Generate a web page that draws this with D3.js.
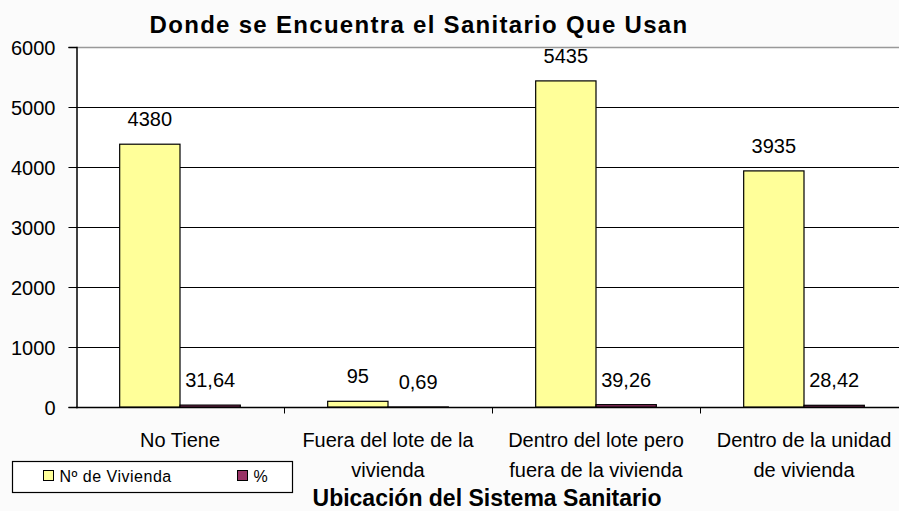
<!DOCTYPE html>
<html>
<head>
<meta charset="utf-8">
<script src="https://cdn.jsdelivr.net/npm/d3@7"></script>
<style>
  body { margin: 0; background: #fbfbfb; }
  .text { font-family: "Liberation Sans", Arial, sans-serif; fill: #000; }
</style>
</head>
<body>
<div id="chart"></div>
<script>
// Data
const categories = [
    ["No Tiene"],
    ["Fuera del lote de la", "vivienda"],
    ["Dentro del lote pero", "fuera de la vivienda"],
    ["Dentro de la unidad", "de vivienda"]
];
const seriesNames = ["Nº de Vivienda", "%"];
const viviendas = [4380, 95, 5435, 3935];
const percents = [31.64, 0.69, 39.26, 28.42];
const yTicks = [0, 1000, 2000, 3000, 4000, 5000, 6000];
const titleText = "Donde se Encuentra el Sanitario Que Usan";
const xTitle = "Ubicación del Sistema Sanitario";

const colors = { vivienda: "#ffff99", pct: "#993366", grid: "#000", top: "#999" };

const width = 899, height = 511;
const margins = { top: 47, right: -9, bottom: 104, left: 76 };

const svg = d3.select("#chart").append("svg")
    .attr("width", width)
    .attr("height", height);

// Plot area background
const plotW = width - margins.left - margins.right;
const plotH = height - margins.top - margins.bottom;

svg.append("rect")
    .attr("x", margins.left).attr("y", margins.top)
    .attr("width", plotW).attr("height", plotH)
    .attr("fill", "#fff");

// Scales
const xScale = d3.scaleBand()
    .domain(d3.range(categories.length))
    .range([margins.left, margins.left + plotW])
    .padding(0);

const inner = d3.scaleBand()
    .domain(seriesNames)
    .range([xScale.bandwidth() * 0.21, xScale.bandwidth() * 0.79])
    .padding(0);

const yScale = d3.scaleLinear()
    .domain([0, 6000])
    .range([margins.top + plotH, margins.top]);

// Gridlines
svg.append("g")
    .selectAll("line")
    .data(yTicks.filter(d => d > 0))
    .join("line")
    .attr("x1", margins.left).attr("x2", margins.left + plotW)
    .attr("y1", d => Math.round(yScale(d)) + 0.5)
    .attr("y2", d => Math.round(yScale(d)) + 0.5)
    .attr("stroke", d => d === 6000 ? colors.top : colors.grid)
    .attr("stroke-width", d => d === 6000 ? 1.5 : 1);

// Y axis
const yAxis = svg.append("g")
    .attr("transform", `translate(${margins.left + 0.5},0)`)
    .call(d3.axisLeft(yScale).tickValues(yTicks).tickSize(8).tickPadding(13).tickFormat(d3.format("d")));
yAxis.select(".domain").attr("stroke", "#000").attr("stroke-width", 1.5);
yAxis.selectAll(".tick line").attr("stroke", "#000");
yAxis.selectAll(".tick text")
    .attr("class", "text")
    .style("font-size", "20px")
    .attr("dy", "0.36em");

// X axis (line and ticks at band boundaries)
const baseY = Math.round(yScale(0)) + 0.5;
svg.append("line")
    .attr("x1", margins.left).attr("x2", margins.left + plotW)
    .attr("y1", baseY).attr("y2", baseY)
    .attr("stroke", "#000").attr("stroke-width", 1.5);

svg.append("g")
    .selectAll("line")
    .data(d3.range(1, categories.length))
    .join("line")
    .attr("x1", i => Math.round(xScale(i)) + 0.5)
    .attr("x2", i => Math.round(xScale(i)) + 0.5)
    .attr("y1", baseY).attr("y2", baseY + 6)
    .attr("stroke", "#000");

// Bars
const rows = categories.map((c, i) => [
    { key: seriesNames[0], i, value: viviendas[i], label: d3.format("d")(viviendas[i]), fill: colors.vivienda },
    { key: seriesNames[1], i, value: percents[i], label: percents[i].toFixed(2).replace(".", ","), fill: colors.pct }
]).flat();

svg.append("g")
    .selectAll("rect")
    .data(rows)
    .join("rect")
    .attr("x", d => xScale(d.i) + inner(d.key))
    .attr("y", d => yScale(d.value))
    .attr("width", inner.bandwidth())
    .attr("height", d => yScale(0) - yScale(d.value))
    .attr("fill", d => d.fill)
    .attr("stroke", "#000")
    .attr("stroke-width", 1.2);

// Value labels
svg.append("g")
    .selectAll("text")
    .data(rows)
    .join("text")
    .attr("class", "text")
    .attr("x", d => xScale(d.i) + inner(d.key) + inner.bandwidth() / 2)
    .attr("y", d => yScale(d.value) - 18)
    .attr("text-anchor", "middle")
    .style("font-size", "20px")
    .text(d => d.label);

// Category labels
const catLabels = svg.append("g")
    .selectAll("text")
    .data(categories)
    .join("text")
    .attr("class", "text")
    .attr("text-anchor", "middle")
    .style("font-size", "20px");
catLabels.selectAll("tspan")
    .data((d, i) => d.map(line => ({ line, i })))
    .join("tspan")
    .attr("x", d => xScale(d.i) + xScale.bandwidth() / 2)
    .attr("y", (d, j) => 447 + j * 30)
    .text(d => d.line);

// Title
svg.append("text")
    .attr("class", "text")
    .attr("x", 419)
    .attr("y", 33)
    .attr("text-anchor", "middle")
    .style("font-size", "24px")
    .style("font-weight", "bold")
    .style("letter-spacing", "1.3px")
    .text(titleText);

// X axis title
svg.append("text")
    .attr("class", "text")
    .attr("x", 487)
    .attr("y", 506)
    .attr("text-anchor", "middle")
    .style("font-size", "23px")
    .style("font-weight", "bold")
    .text(xTitle);

// Legend
const legend = svg.append("g").attr("transform", "translate(12.5,461.5)");
legend.append("rect")
    .attr("width", 280).attr("height", 31)
    .attr("fill", "#fff").attr("stroke", "#000").attr("stroke-width", 1.2);

const legendItems = [
    { name: seriesNames[0], fill: colors.vivienda, x: 31 },
    { name: seriesNames[1], fill: colors.pct, x: 225 }
];
const li = legend.selectAll("g.item")
    .data(legendItems)
    .join("g")
    .attr("class", "item")
    .attr("transform", d => `translate(${d.x},9)`);
li.append("rect")
    .attr("width", 10).attr("height", 10)
    .attr("fill", d => d.fill)
    .attr("stroke", "#000");
li.append("text")
    .attr("class", "text")
    .attr("x", 16)
    .attr("y", 11)
    .style("font-size", "16px")
    .style("letter-spacing", "0.5px")
    .text(d => d.name);
</script>
</body>
</html>
